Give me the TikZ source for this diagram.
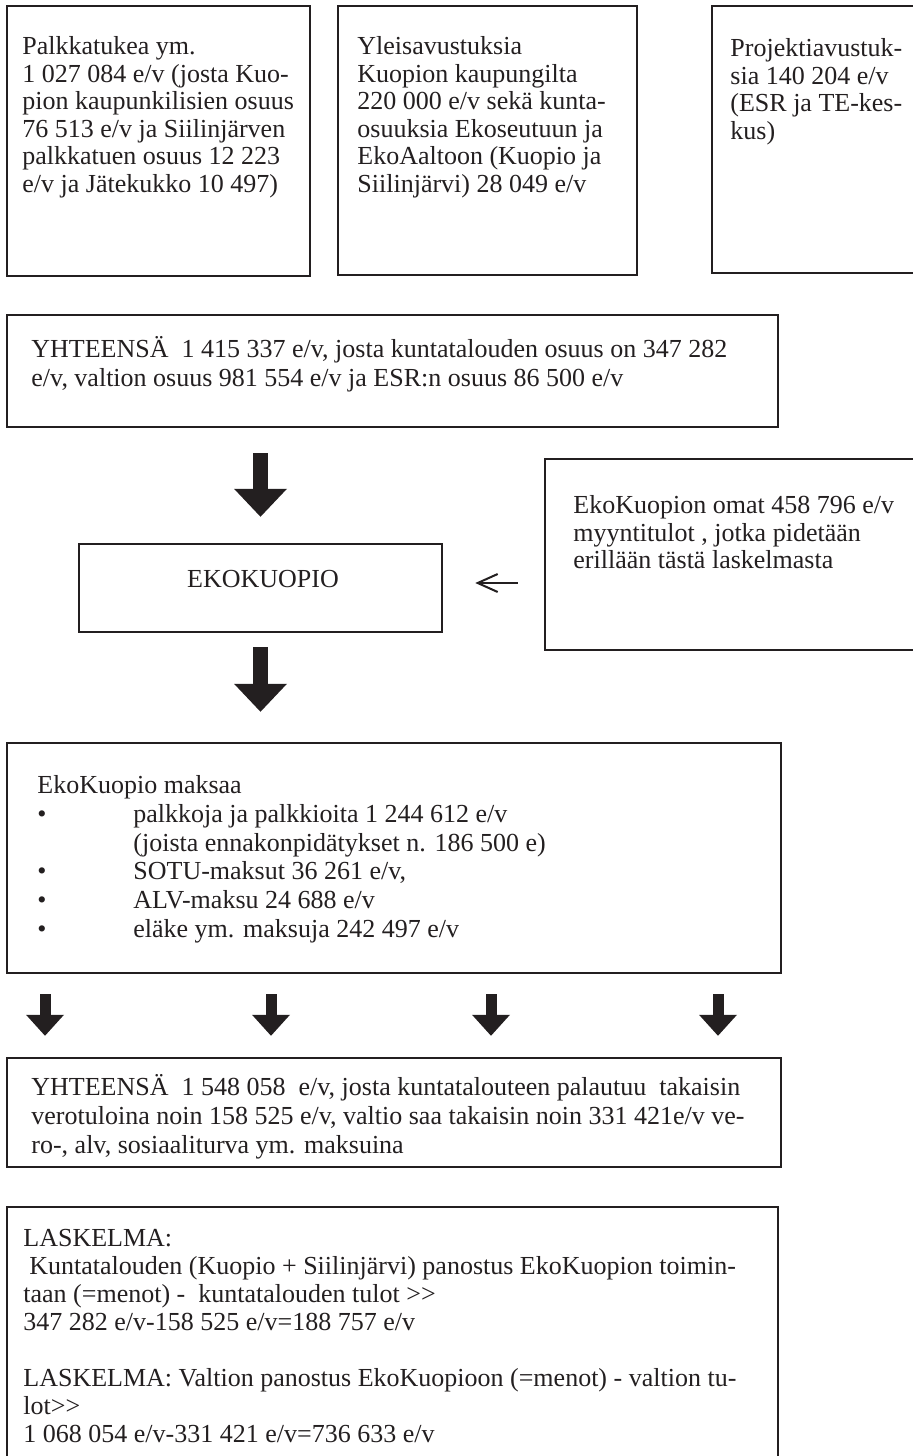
\documentclass[tikz,border=0pt]{standalone}
\usepackage{fontspec}
\setmainfont{Liberation Serif}
\usepackage{tikz}
\usetikzlibrary{arrows.meta}
\usetikzlibrary{fit}
\definecolor{ink}{HTML}{231F20}
\newcommand{\kohta}{\makebox[48pt][l]{\textbullet}}
\newcommand{\sisennys}{\makebox[48pt]{}}
\newcommand{\ylos}{\rule{0pt}{12pt}}

\begin{document}
\begin{tikzpicture}[x=0.5pt,y=-0.5pt,
		box/.style={draw=ink,line width=1.25pt,inner sep=0pt},
		txt/.style={inner sep=0pt,text=ink,font=\fontsize{13}{13.8}\selectfont},
		blk/.style={txt,anchor=north west,yshift=12pt,align=left},
		wide/.style={font=\fontsize{13}{14.4}\selectfont},
		bigarrow/.style={draw=ink,line width=7.5pt,-{Triangle[width=26.5pt,length=14pt,line width=0pt]}},
		midarrow/.style={draw=ink,line width=5.5pt,-{Triangle[width=19pt,length=10.5pt,line width=0pt]}},
		thinarrow/.style={draw=ink,line width=1pt,-{Straight Barb[length=10pt,width=9pt]}}]
	\useasboundingbox (0,0) rectangle (912,1456);
	% tulot
	\node[box,fit={(7,6) (310,276)}] (palkka) {};
	\node[blk] (palkka-t) at (22,54) {\ylos Palkkatukea ym.\\1 027 084 e/v (josta Kuo-\\pion kaupunkilisien osuus\\76 513 e/v ja Siilinjärven\\palkkatuen osuus 12 223\\e/v ja Jätekukko 10 497)};
	\node[box,fit={(338,6) (637,275)}] (yleis) {};
	\node[blk] (yleis-t) at (357,54) {\ylos Yleisavustuksia\\Kuopion kaupungilta\\220 000 e/v sekä kunta-\\osuuksia Ekoseutuun ja\\EkoAaltoon (Kuopio ja\\Siilinjärvi) 28 049 e/v};
	\node[box,fit={(712,6) (940,273)}] (projekti) {};
	\node[blk] (projekti-t) at (730,56) {\ylos Projektiavustuk-\\sia 140 204 e/v\\(ESR ja TE-kes-\\kus)};
	\node[box,fit={(7,315) (778,427)}] (yht) {};
	\node[blk,wide] (yht-t) at (31,357) {\ylos YHTEENSÄ\ \ 1 415 337 e/v, josta kuntatalouden osuus on 347 282\\e/v, valtion osuus 981 554 e/v ja ESR:n osuus 86 500 e/v};
	% ekokuopio
	\node[box,fit={(79,544) (442,632)}] (eko) {};
	\node[txt,anchor=base] (eko-t) at (263,587) {EKOKUOPIO};
	\node[box,fit={(545,459) (940,650)}] (myynti) {};
	\node[blk] (myynti-t) at (573,513) {\ylos EkoKuopion omat 458 796 e/v\\myyntitulot , jotka pidetään\\erillään tästä laskelmasta};
	% menot
	\node[box,fit={(7,743) (781,973)}] (maksaa) {};
	\node[blk,wide] (maksaa-t) at (37,793) {\ylos EkoKuopio maksaa\\\kohta palkkoja ja palkkioita 1 244 612 e/v\\\sisennys(joista ennakonpidätykset n. 186 500 e)\\\kohta SOTU-maksut 36 261 e/v,\\\kohta ALV-maksu 24 688 e/v\\\kohta eläke ym. maksuja 242 497 e/v};
	\node[box,fit={(7,1058) (781,1167)}] (takaisin) {};
	\node[blk,wide] (takaisin-t) at (31,1095) {\ylos YHTEENSÄ\ \ 1 548 058\ \ e/v, josta kuntatalouteen palautuu\ \ takaisin\\verotuloina noin 158 525 e/v, valtio saa takaisin noin 331 421e/v ve-\\ro-, alv, sosiaaliturva ym. maksuina};
	\node[box,fit={(7,1207) (778,1490)}] (laskelma) {};
	\node[blk,font=\fontsize{13}{14}\selectfont] (laskelma-t) at (23,1246) {\ylos LASKELMA:\\\hspace*{3pt}Kuntatalouden (Kuopio + Siilinjärvi) panostus EkoKuopion toimin-\\taan (=menot) -\ \ kuntatalouden tulot >{}>\\347 282 e/v-158 525 e/v=188 757 e/v\\[14pt]LASKELMA: Valtion panostus EkoKuopioon (=menot) - valtion tu-\\lot>{}>\\1 068 054 e/v-331 421 e/v=736 633 e/v};
	% nuolet
	\draw[bigarrow,shorten <=12.5pt,shorten >=13pt] (eko.north |- yht.south) -- (eko.north);
	\draw[thinarrow,shorten <=13pt,shorten >=16pt] (myynti.west |- 0,583) -- (eko.east |- 0,583);
	\draw[bigarrow,shorten <=7pt,shorten >=15pt] (eko.south) -- (eko.south |- maksaa.north);
	\foreach \x in {45,271,491,718}
		\draw[midarrow,shorten <=10pt,shorten >=10.5pt] (maksaa.south -| \x,0) -- (takaisin.north -| \x,0);
\end{tikzpicture}
\end{document}
